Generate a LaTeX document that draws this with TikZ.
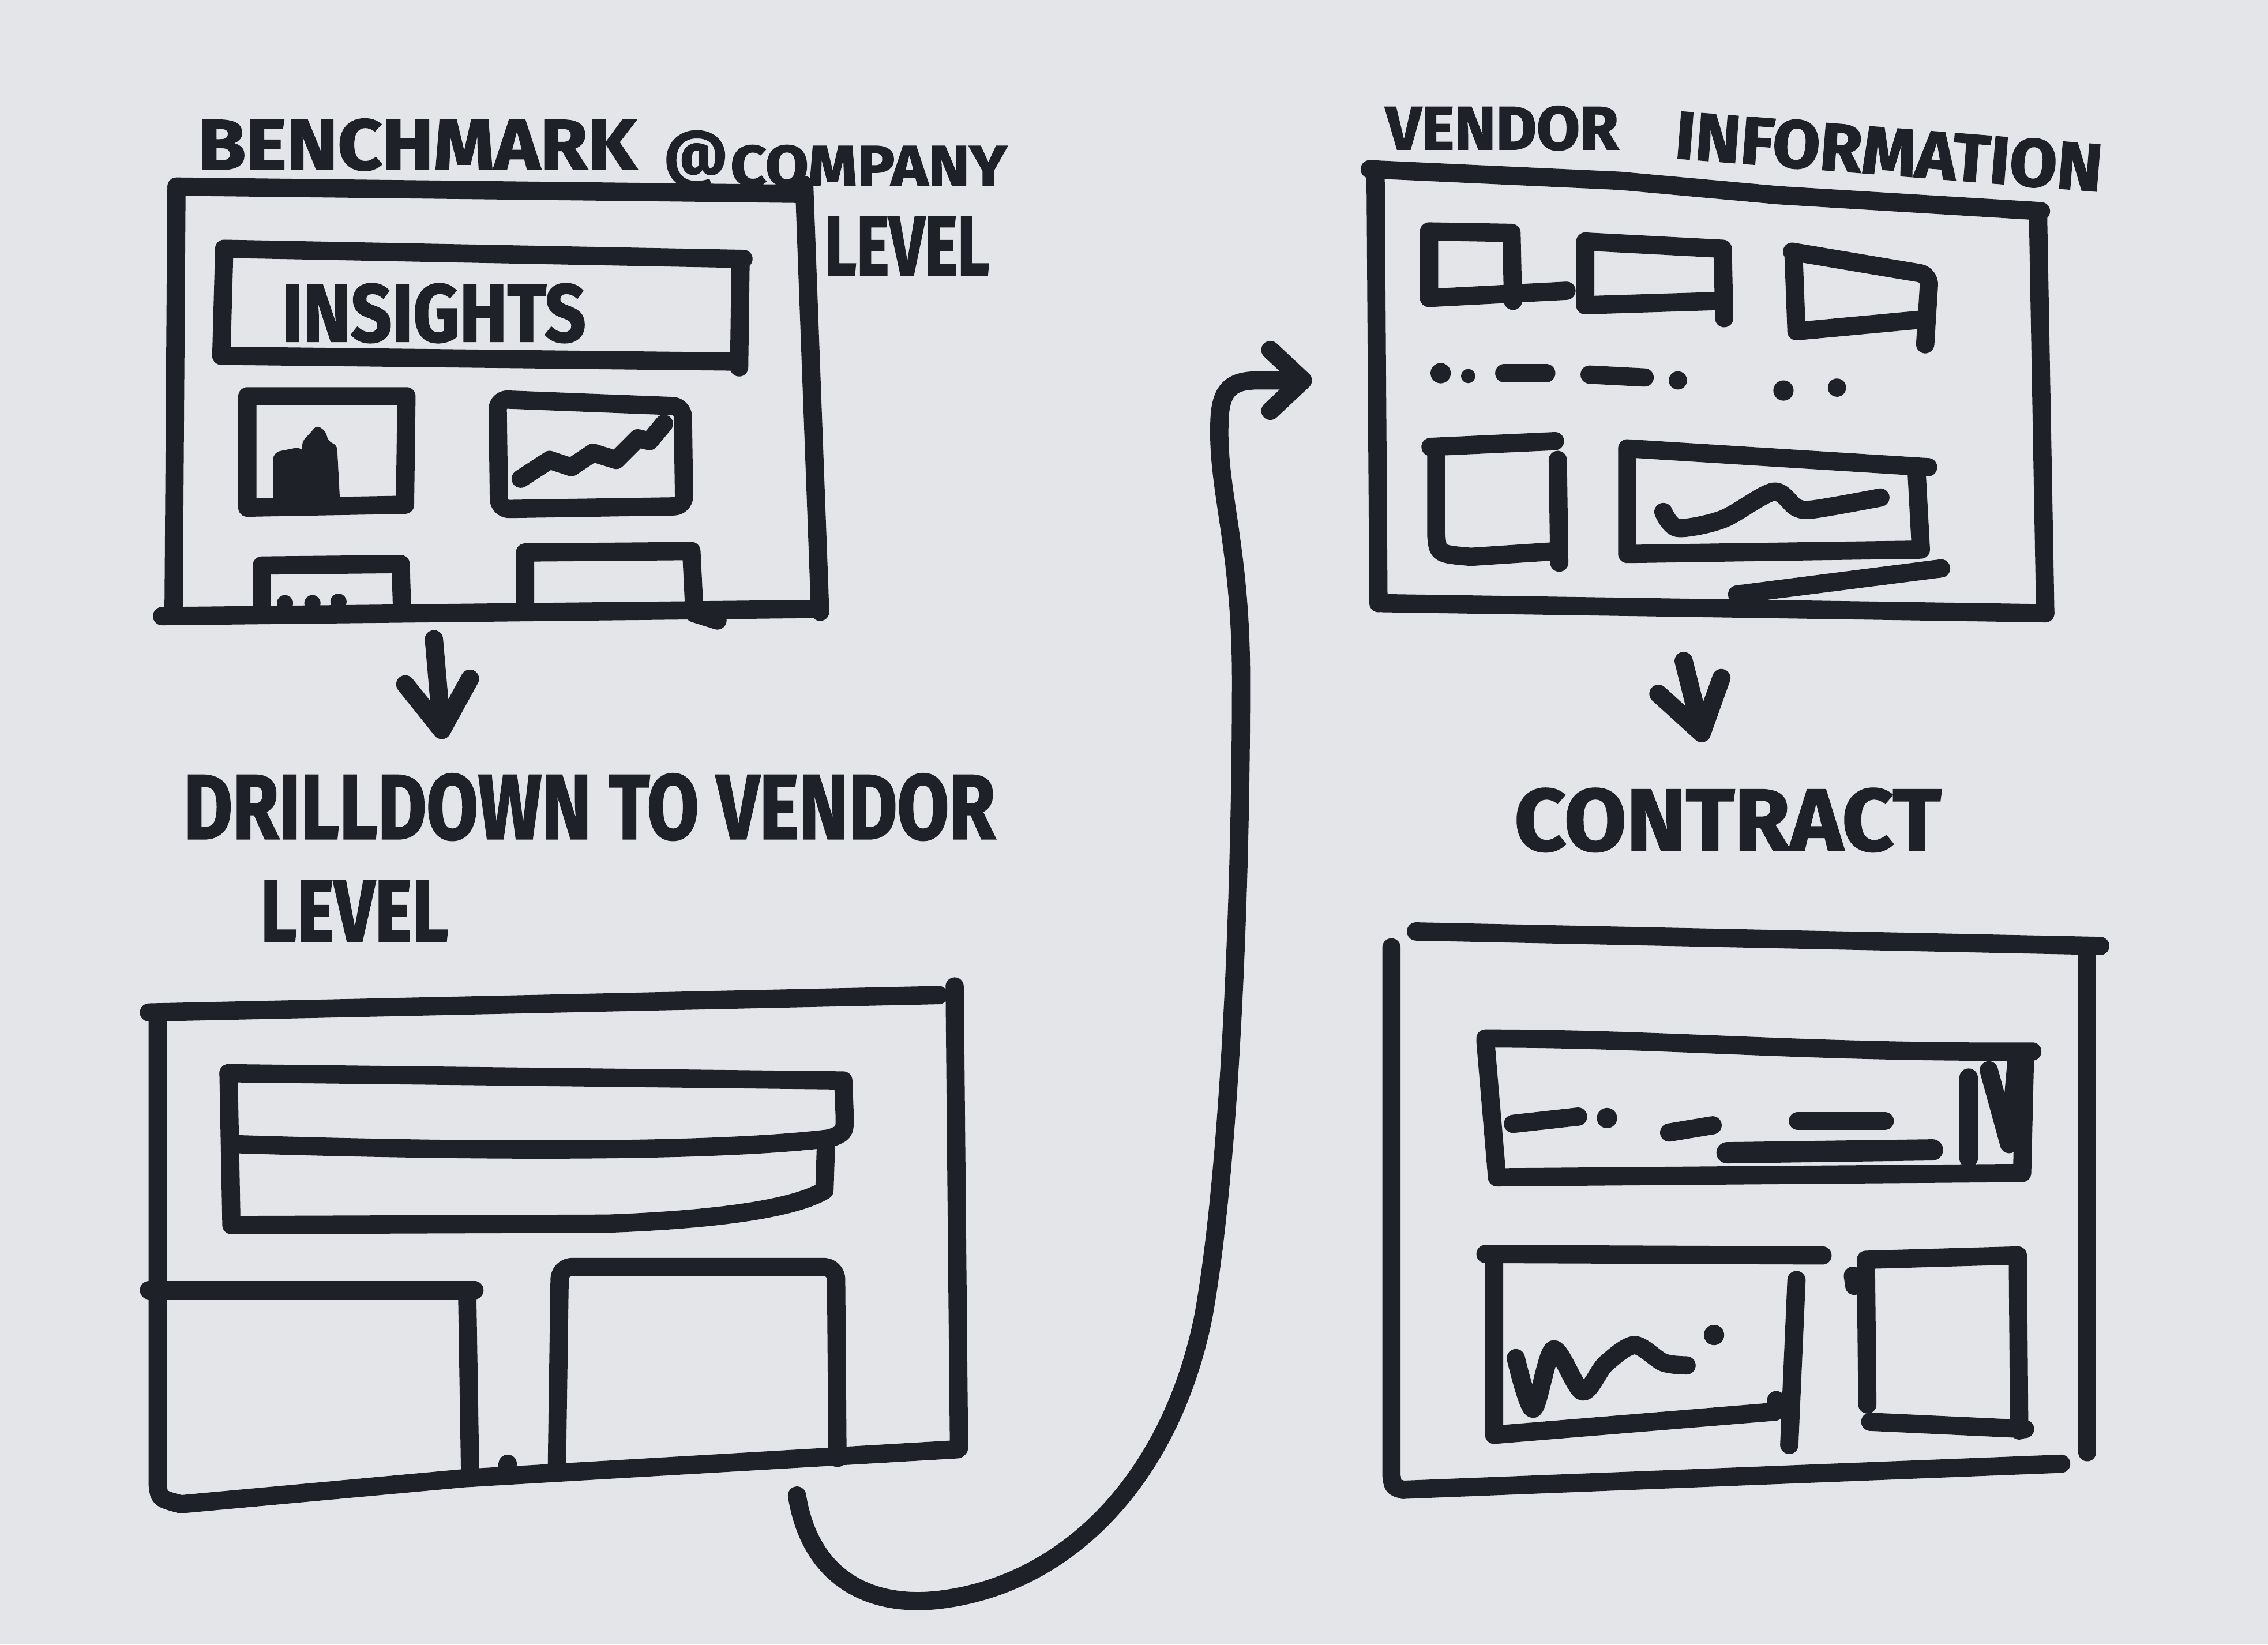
\documentclass[tikz,border=0pt]{standalone}
\usepackage{fontspec}
\setmainfont{Fira Sans}[BoldFeatures={FakeBold=1.8}]
\usepackage{graphicx}
\usetikzlibrary{arrows.meta}
\definecolor{paper}{RGB}{228,229,232}
\definecolor{ink}{RGB}{30,33,40}
\newlength\sku
\setlength\sku{0.25077mm}
% hand lettering: text stretched to a given width and cap height
\newcommand\marker[3]{\resizebox{#1\sku}{#2\sku}{\bfseries #3}}

\begin{document}
\begin{tikzpicture}[x=0.25077mm,y=-0.25077mm,
  pen/.style={draw=ink,line width=9pt,line cap=round,line join=round},
  handtext/.style={inner sep=0pt,outer sep=0pt,anchor=south west,text=ink},
  flow/.style={pen,-{Straight Barb[round,length=24pt,width=32pt]}},
  sweep/.style={pen,-{Straight Barb[round,length=16pt,width=30pt]}},
]
\fill[paper] (0,0) rectangle (1568,1137);
\useasboundingbox (0,0) rectangle (1568,1137);

% ---------- benchmark screen ----------
\node[handtext] (t-bench) at (137,118) {\marker{303}{35}{BENCHMARK}};
\node[handtext,anchor=base west] (t-at) at (459,121) {\resizebox{44\sku}{!}{\bfseries @}};
\node[handtext] (t-company) at (505,129) {\marker{191}{28}{COMPANY}};
\node[handtext] (t-level1) at (570,190) {\marker{114}{40}{LEVEL}};

\draw[pen] (122,129) -- (552,134);
\draw[pen] (556,128) -- (567,423);
\draw[pen] (122,131) -- (120,423);
\draw[pen] (112,426) -- (567,421);
\draw[pen] (480,424) -- (496,429);
% insights bar
\draw[pen] (155,172) -- (514,179);
\draw[pen] (155,174) -- (153,246);
\draw[pen] (157,246) -- (510,250);
\draw[pen] (512,180) -- (511,254);
\node[handtext] (t-insights) at (195,237) {\marker{210}{40}{INSIGHTS}};
% bar chart tile
\draw[pen] (171,274) -- (281,274) -- (280,349) -- (171,351) -- cycle;
\draw[pen] (195,343) -- (195,318) -- (205,316) -- (206,343);
\fill[ink,rounded corners=2pt] (209,346) -- (209,305) -- (214,300) -- (219,294) -- (225,298) -- (227,305) -- (233,308) -- (235,346) -- cycle;
% line chart tile
\draw[pen,rounded corners=5pt] (344,276) -- (472,281) -- (473,350) -- (345,352) -- cycle;
\draw[pen] (360,331) -- (380,318) -- (395,323) -- (410,313) -- (426,318) -- (441,303) -- (449,305) -- (459,293);
% lower tiles
\draw[pen] (181,423) -- (181,391) -- (277,390) -- (278,423);
\fill[ink] (197,417) circle[radius=4pt] (216,417) circle[radius=4pt] (234,416) circle[radius=4pt];
\draw[pen] (363,421) -- (363,382) -- (478,381) -- (480,422);

\coordinate (benchout) at (300,442);
\coordinate (drillin) at (306,511);
\draw[flow] (benchout) -- (drillin);

% ---------- vendor drill-down screen ----------
\node[handtext] (drill) at (127,581) {\marker{561}{45}{DRILLDOWN TO VENDOR}};
\node[handtext] (t-level2) at (180,651) {\marker{130}{42}{LEVEL}};

\draw[pen] (103,700) -- (649,688);
\draw[pen] (660,682) -- (663,1001);
\draw[pen] (109,702) -- (109,1026) .. controls (110,1036) .. (125,1040);
\draw[pen] (125,1040) -- (321,1022) -- (662,1002);
\draw[pen] (158,742) -- (583,747) -- (584,772) .. controls (584,783) .. (574,787);
\draw[pen] (162,791) .. controls (350,797) and (500,796) .. (574,787);
\draw[pen] (158,742) -- (160,847) -- (420,846) .. controls (500,843) and (550,835) .. (570,823) -- (571,792);
\draw[pen] (103,892) -- (328,892);
\draw[pen] (323,894) -- (325,1018);
\draw[pen] (350,1017) -- (351,1012);
\draw[pen,rounded corners=6pt] (385,1015) -- (387,876) -- (578,876) -- (579,1008);

\coordinate (drillout) at (551,1034);
\coordinate (vendorin) at (907,263);
\draw[sweep] (drillout) .. controls (560,1090) and (600,1112) .. (650,1106)
  .. controls (740,1095) and (810,1020) .. (832,910)
  .. controls (850,810) and (858,620) .. (858,470)
  .. controls (858,380) and (842,340) .. (843,295)
  .. controls (843,270) and (850,263) .. (870,263) -- (vendorin);

% ---------- vendor information screen ----------
\node[handtext] (t-vendor) at (958,104) {\marker{161}{30}{VENDOR}};
\node[handtext,rotate=-4.5] (t-info) at (1157,110) {\marker{296}{33}{INFORMATION}};

\draw[pen] (947,117) -- (1120,125) -- (1230,135) -- (1411,146);
\draw[pen] (1409,148) -- (1414,424);
\draw[pen] (951,118) -- (953,417);
\draw[pen] (956,417) -- (1414,424);
\draw[pen] (1201,411) -- (1342,393);
\draw[pen] (988,206) -- (988,160) -- (1045,161) -- (1046,208);
\draw[pen] (988,206) -- (1083,201);
\draw[pen] (1096,211) -- (1096,167) -- (1191,172) -- (1192,220);
\draw[pen] (1096,211) -- (1191,208);
\draw[pen,rounded corners=5pt] (1239,174) -- (1334,190) -- (1331,238);
\draw[pen] (1240,176) -- (1242,229) -- (1328,221);
\fill[ink] (996,258) circle[radius=5pt] (1015,260) circle[radius=3.5pt]
  (1160,263) circle[radius=4.5pt] (1233,270) circle[radius=5pt] (1270,268) circle[radius=4.5pt];
\draw[pen] (1040,258) -- (1069,258);
\draw[pen] (1099,259) -- (1137,261);
\draw[pen] (989,309) -- (1075,305);
\draw[pen] (993,312) -- (993,370) .. controls (994,383) .. (1017,385) -- (1077,381);
\draw[pen] (1077,318) -- (1078,389);
\draw[pen] (1125,310) -- (1333,323);
\draw[pen] (1125,312) -- (1125,383) -- (1328,380) -- (1325,325);
\draw[pen] plot[smooth] coordinates {(1150,354) (1160,365) (1191,359) (1226,340) (1242,351) (1255,352) (1300,344)};

\coordinate (vendorout) at (1164,457);
\coordinate (contractin) at (1178,513);
\draw[flow] (vendorout) -- (contractin);

% ---------- contract screen ----------
\node[handtext] (contract) at (1047,589) {\marker{295}{43}{CONTRACT}};

\draw[pen] (979,644) -- (1452,654);
\draw[pen] (1443,661) -- (1443,1004);
\draw[pen] (962,655) -- (962,1020) .. controls (963,1028) .. (970,1030);
\draw[pen] (970,1030) -- (1425,1012);
\draw[pen] (1027,718) .. controls (1150,718) and (1250,728) .. (1405,727);
\draw[pen] (1027,720) -- (1035,814) -- (1396,811);
\draw[pen] (1400,728) -- (1398,811);
\draw[pen,line width=10.5pt] (1194,797) -- (1336,795);
\draw[pen] (1361,745) -- (1361,801);
\draw[pen] (1375,740) -- (1389,791) -- (1394,735);
\draw[pen] (1046,777) -- (1091,772);
\fill[ink] (1111,773) circle[radius=5pt];
\draw[pen] (1154,783) -- (1184,778);
\draw[pen] (1243,775) -- (1303,775);
\draw[pen] (1027,867) -- (1260,868);
\draw[pen] (1033,870) -- (1033,992) -- (1227,976) -- (1228,968);
\draw[pen] (1242,885) -- (1237,999);
\draw[pen] plot[smooth] coordinates {(1048,939) (1060,974) (1074,933) (1094,962) (1110,943) (1130,930) (1150,942) (1166,944)};
\fill[ink] (1185,923) circle[radius=5pt];
\draw[pen] (1290,871) -- (1395,868) -- (1396,989);
\draw[pen] (1290,873) -- (1291,971);
\draw[pen] (1293,983) -- (1400,988);
\draw[pen] (1281,882) -- (1282,889);
\end{tikzpicture}
\end{document}
